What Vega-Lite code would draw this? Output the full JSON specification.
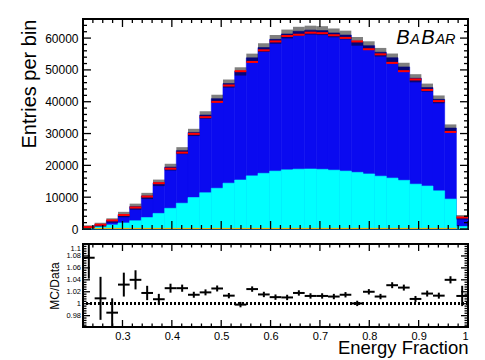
{
  "$schema": "https://vega.github.io/schema/vega-lite/v6.json",
  "background": "white",
  "padding": {"left": 18, "top": 17, "right": 15, "bottom": 0},
  "bounds": "flush",
  "spacing": 15,
  "config": {
    "font": "Liberation Sans",
    "view": {"stroke": "black", "strokeWidth": 2},
    "axis": {"domain": false, "grid": false, "ticks": false, "labelColor": "black", "titleColor": "black", "labelFont": "Liberation Sans", "titleFont": "Liberation Sans", "titleFontWeight": "normal", "labelOverlap": false},
    "tick": {"color": "black", "thickness": 1.3, "opacity": 1}
  },
  "datasets": {
    "bins": [
      {"lo": 0.22, "hi": 0.2436, "c": 0.2318, "data": 600, "mc": 650, "hlo": 150, "hhi": 1150, "cyan": 300, "orange": 100, "ratio": 1.077, "rlo": 1.042, "rhi": 1.112},
      {"lo": 0.2436, "hi": 0.2673, "c": 0.2555, "data": 1350, "mc": 1362, "hlo": 762, "hhi": 1962, "cyan": 700, "orange": 350, "ratio": 1.009, "rlo": 0.973, "rhi": 1.045},
      {"lo": 0.2673, "hi": 0.2909, "c": 0.2791, "data": 2700, "mc": 2660, "hlo": 1960, "hhi": 3360, "cyan": 1300, "orange": 350, "ratio": 0.985, "rlo": 0.961, "rhi": 1.009},
      {"lo": 0.2909, "hi": 0.3145, "c": 0.3027, "data": 4400, "mc": 4541, "hlo": 3691, "hhi": 5391, "cyan": 1900, "orange": 350, "ratio": 1.032, "rlo": 1.012, "rhi": 1.052},
      {"lo": 0.3145, "hi": 0.3382, "c": 0.3264, "data": 6750, "mc": 7020, "hlo": 6070, "hhi": 7970, "cyan": 2600, "orange": 350, "ratio": 1.04, "rlo": 1.024, "rhi": 1.056},
      {"lo": 0.3382, "hi": 0.3618, "c": 0.35, "data": 10200, "mc": 10384, "hlo": 9404, "hhi": 11364, "cyan": 3600, "orange": 350, "ratio": 1.018, "rlo": 1.006, "rhi": 1.03},
      {"lo": 0.3618, "hi": 0.3855, "c": 0.3736, "data": 14400, "mc": 14508, "hlo": 13488, "hhi": 15528, "cyan": 4900, "orange": 350, "ratio": 1.0075, "rlo": 0.9985, "rhi": 1.0165},
      {"lo": 0.3855, "hi": 0.4091, "c": 0.3973, "data": 18950, "mc": 19443, "hlo": 18383, "hhi": 20503, "cyan": 6500, "orange": 350, "ratio": 1.026, "rlo": 1.0185, "rhi": 1.0335},
      {"lo": 0.4091, "hi": 0.4327, "c": 0.4209, "data": 24000, "mc": 24624, "hlo": 23524, "hhi": 25724, "cyan": 8100, "orange": 350, "ratio": 1.026, "rlo": 1.02, "rhi": 1.032},
      {"lo": 0.4327, "hi": 0.4564, "c": 0.4445, "data": 29900, "mc": 30349, "hlo": 29209, "hhi": 31489, "cyan": 9900, "orange": 350, "ratio": 1.015, "rlo": 1.01, "rhi": 1.02},
      {"lo": 0.4564, "hi": 0.48, "c": 0.4682, "data": 35150, "mc": 35818, "hlo": 34628, "hhi": 37008, "cyan": 11400, "orange": 350, "ratio": 1.019, "rlo": 1.014, "rhi": 1.024},
      {"lo": 0.48, "hi": 0.5036, "c": 0.4918, "data": 39950, "mc": 40969, "hlo": 39739, "hhi": 42199, "cyan": 12800, "orange": 350, "ratio": 1.0255, "rlo": 1.0205, "rhi": 1.0305},
      {"lo": 0.5036, "hi": 0.5273, "c": 0.5155, "data": 45100, "mc": 45709, "hlo": 44439, "hhi": 46979, "cyan": 14400, "orange": 350, "ratio": 1.0135, "rlo": 1.009, "rhi": 1.018},
      {"lo": 0.5273, "hi": 0.5509, "c": 0.5391, "data": 49600, "mc": 49526, "hlo": 48226, "hhi": 50826, "cyan": 15400, "orange": 350, "ratio": 0.9985, "rlo": 0.994, "rhi": 1.003},
      {"lo": 0.5509, "hi": 0.5745, "c": 0.5627, "data": 52500, "mc": 53786, "hlo": 52456, "hhi": 55116, "cyan": 16700, "orange": 350, "ratio": 1.0245, "rlo": 1.02, "rhi": 1.029},
      {"lo": 0.5745, "hi": 0.5982, "c": 0.5864, "data": 56150, "mc": 57020, "hlo": 55660, "hhi": 58380, "cyan": 17500, "orange": 350, "ratio": 1.0155, "rlo": 1.011, "rhi": 1.02},
      {"lo": 0.5982, "hi": 0.6218, "c": 0.61, "data": 58950, "mc": 59598, "hlo": 58218, "hhi": 60978, "cyan": 18200, "orange": 350, "ratio": 1.011, "rlo": 1.0065, "rhi": 1.0155},
      {"lo": 0.6218, "hi": 0.6455, "c": 0.6336, "data": 60650, "mc": 61287, "hlo": 59897, "hhi": 62677, "cyan": 18600, "orange": 350, "ratio": 1.0105, "rlo": 1.006, "rhi": 1.015},
      {"lo": 0.6455, "hi": 0.6691, "c": 0.6573, "data": 61050, "mc": 62149, "hlo": 60749, "hhi": 63549, "cyan": 18800, "orange": 350, "ratio": 1.018, "rlo": 1.0135, "rhi": 1.0225},
      {"lo": 0.6691, "hi": 0.6927, "c": 0.6809, "data": 61700, "mc": 62502, "hlo": 61102, "hhi": 63902, "cyan": 18850, "orange": 350, "ratio": 1.013, "rlo": 1.0085, "rhi": 1.0175},
      {"lo": 0.6927, "hi": 0.7164, "c": 0.7045, "data": 61550, "mc": 62350, "hlo": 60950, "hhi": 63750, "cyan": 18750, "orange": 350, "ratio": 1.013, "rlo": 1.0085, "rhi": 1.0175},
      {"lo": 0.7164, "hi": 0.74, "c": 0.7282, "data": 60900, "mc": 61631, "hlo": 60241, "hhi": 63021, "cyan": 18500, "orange": 350, "ratio": 1.012, "rlo": 1.0075, "rhi": 1.0165},
      {"lo": 0.74, "hi": 0.7636, "c": 0.7518, "data": 60050, "mc": 60951, "hlo": 59561, "hhi": 62341, "cyan": 18200, "orange": 350, "ratio": 1.015, "rlo": 1.0105, "rhi": 1.0195},
      {"lo": 0.7636, "hi": 0.7873, "c": 0.7755, "data": 58950, "mc": 58979, "hlo": 57609, "hhi": 60349, "cyan": 17800, "orange": 350, "ratio": 1.0005, "rlo": 0.996, "rhi": 1.005},
      {"lo": 0.7873, "hi": 0.8109, "c": 0.7991, "data": 56500, "mc": 57630, "hlo": 56270, "hhi": 58990, "cyan": 17300, "orange": 350, "ratio": 1.02, "rlo": 1.0155, "rhi": 1.0245},
      {"lo": 0.8109, "hi": 0.8345, "c": 0.8227, "data": 54900, "mc": 55559, "hlo": 54209, "hhi": 56909, "cyan": 16600, "orange": 350, "ratio": 1.012, "rlo": 1.0075, "rhi": 1.0165},
      {"lo": 0.8345, "hi": 0.8582, "c": 0.8464, "data": 52200, "mc": 53818, "hlo": 52488, "hhi": 55148, "cyan": 16000, "orange": 350, "ratio": 1.031, "rlo": 1.026, "rhi": 1.036},
      {"lo": 0.8582, "hi": 0.8818, "c": 0.87, "data": 49600, "mc": 50939, "hlo": 49629, "hhi": 52249, "cyan": 15300, "orange": 350, "ratio": 1.027, "rlo": 1.022, "rhi": 1.032},
      {"lo": 0.8818, "hi": 0.9055, "c": 0.8936, "data": 47000, "mc": 47376, "hlo": 46096, "hhi": 48656, "cyan": 14100, "orange": 350, "ratio": 1.008, "rlo": 1.003, "rhi": 1.013},
      {"lo": 0.9055, "hi": 0.9291, "c": 0.9173, "data": 43700, "mc": 44443, "hlo": 43183, "hhi": 45703, "cyan": 13500, "orange": 350, "ratio": 1.017, "rlo": 1.012, "rhi": 1.022},
      {"lo": 0.9291, "hi": 0.9527, "c": 0.9409, "data": 40200, "mc": 40743, "hlo": 39513, "hhi": 41973, "cyan": 12000, "orange": 350, "ratio": 1.0135, "rlo": 1.0085, "rhi": 1.0185},
      {"lo": 0.9527, "hi": 0.9764, "c": 0.9645, "data": 30500, "mc": 31720, "hlo": 30570, "hhi": 32870, "cyan": 9400, "orange": 350, "ratio": 1.04, "rlo": 1.034, "rhi": 1.046},
      {"lo": 0.9764, "hi": 1.0, "c": 0.9882, "data": 3630, "mc": 3677, "hlo": 2977, "hhi": 4377, "cyan": 800, "orange": 100, "ratio": 1.013, "rlo": 0.996, "rhi": 1.03}
    ],
    "bigLetters": [{"t": "B", "x": 0.8547, "y": 58100}, {"t": "B", "x": 0.9054, "y": 58100}],
    "smallLetters": [{"t": "A", "x": 0.8832, "y": 58100}, {"t": "AR", "x": 0.934, "y": 58100}],
    "xMajor": [{"v": 0.3}, {"v": 0.4}, {"v": 0.5}, {"v": 0.6}, {"v": 0.7}, {"v": 0.8}, {"v": 0.9}, {"v": 1.0}],
    "xMinor": [{"v": 0.22}, {"v": 0.24}, {"v": 0.26}, {"v": 0.28}, {"v": 0.32}, {"v": 0.34}, {"v": 0.36}, {"v": 0.38}, {"v": 0.42}, {"v": 0.44}, {"v": 0.46}, {"v": 0.48}, {"v": 0.52}, {"v": 0.54}, {"v": 0.56}, {"v": 0.58}, {"v": 0.62}, {"v": 0.64}, {"v": 0.66}, {"v": 0.68}, {"v": 0.72}, {"v": 0.74}, {"v": 0.76}, {"v": 0.78}, {"v": 0.82}, {"v": 0.84}, {"v": 0.86}, {"v": 0.88}, {"v": 0.92}, {"v": 0.94}, {"v": 0.96}, {"v": 0.98}],
    "yMajorU": [{"v": 0}, {"v": 10000}, {"v": 20000}, {"v": 30000}, {"v": 40000}, {"v": 50000}, {"v": 60000}],
    "yMinorU": [{"v": 2000}, {"v": 4000}, {"v": 6000}, {"v": 8000}, {"v": 12000}, {"v": 14000}, {"v": 16000}, {"v": 18000}, {"v": 22000}, {"v": 24000}, {"v": 26000}, {"v": 28000}, {"v": 32000}, {"v": 34000}, {"v": 36000}, {"v": 38000}, {"v": 42000}, {"v": 44000}, {"v": 46000}, {"v": 48000}, {"v": 52000}, {"v": 54000}, {"v": 56000}, {"v": 58000}, {"v": 62000}, {"v": 64000}],
    "yMajorL": [{"v": 0.98}, {"v": 1.0}, {"v": 1.02}, {"v": 1.04}, {"v": 1.06}, {"v": 1.08}, {"v": 1.1}],
    "yMinorL": [{"v": 0.964}, {"v": 0.968}, {"v": 0.972}, {"v": 0.976}, {"v": 0.984}, {"v": 0.988}, {"v": 0.992}, {"v": 0.996}, {"v": 1.004}, {"v": 1.008}, {"v": 1.012}, {"v": 1.016}, {"v": 1.024}, {"v": 1.028}, {"v": 1.032}, {"v": 1.036}, {"v": 1.044}, {"v": 1.048}, {"v": 1.052}, {"v": 1.056}, {"v": 1.064}, {"v": 1.068}, {"v": 1.072}, {"v": 1.076}, {"v": 1.084}, {"v": 1.088}, {"v": 1.092}, {"v": 1.096}]
  },
  "vconcat": [
    {
      "width": 385,
      "height": 210,
      "resolve": {"axis": {"x": "independent", "y": "independent"}},
      "layer": [
        {
          "data": {"name": "bins"},
          "mark": {"type": "rect", "color": "#0a0af0", "stroke": "#0a0af0", "strokeWidth": 0.6},
          "encoding": {
            "x": {"field": "lo", "type": "quantitative", "scale": {"domain": [0.22, 1.0], "nice": false, "zero": false}, "axis": null},
            "x2": {"field": "hi"},
            "y": {"field": "mc", "type": "quantitative", "scale": {"domain": [0, 66000], "nice": false, "zero": false},
              "axis": {"orient": "left", "title": "Entries per bin", "titleFontSize": 20, "titleAnchor": "end", "titlePadding": 5,
                "labelFontSize": 12, "labelFlush": false, "labelPadding": 5, "format": "d",
                "values": [0,10000,20000,30000,40000,50000,60000]}},
            "y2": {"datum": 0}
          }
        },
        {
          "data": {"name": "bins"},
          "mark": {"type": "rect", "color": "#00ffff", "stroke": "#00ffff", "strokeWidth": 0.6},
          "encoding": {
            "x": {"field": "lo", "type": "quantitative", "scale": {"domain": [0.22, 1.0], "nice": false, "zero": false}, "axis": null},
            "x2": {"field": "hi"},
            "y": {"field": "cyan", "type": "quantitative", "scale": {"domain": [0, 66000], "nice": false, "zero": false}, "axis": null},
            "y2": {"datum": 0}
          }
        },
        {
          "data": {"name": "bins"},
          "mark": {"type": "rect", "color": "#f0b000"},
          "encoding": {
            "x": {"field": "lo", "type": "quantitative", "scale": {"domain": [0.22, 1.0], "nice": false, "zero": false}, "axis": null},
            "x2": {"field": "hi"},
            "y": {"field": "orange", "type": "quantitative", "scale": {"domain": [0, 66000], "nice": false, "zero": false}, "axis": null},
            "y2": {"datum": 0}
          }
        },
        {
          "data": {"name": "bins"},
          "mark": {"type": "rect", "color": "black", "opacity": 0.5},
          "encoding": {
            "x": {"field": "lo", "type": "quantitative", "scale": {"domain": [0.22, 1.0], "nice": false, "zero": false}, "axis": null},
            "x2": {"field": "hi"},
            "y": {"field": "hlo", "type": "quantitative", "scale": {"domain": [0, 66000], "nice": false, "zero": false}, "axis": null},
            "y2": {"field": "hhi"}
          }
        },
        {
          "data": {"name": "bins"},
          "mark": {"type": "rule", "color": "#ff0000", "strokeWidth": 2},
          "encoding": {
            "x": {"field": "lo", "type": "quantitative", "scale": {"domain": [0.22, 1.0], "nice": false, "zero": false}, "axis": null},
            "x2": {"field": "hi"},
            "y": {"field": "data", "type": "quantitative", "scale": {"domain": [0, 66000], "nice": false, "zero": false}, "axis": null}
          }
        },
        {
          "data": {"name": "bigLetters"},
          "mark": {"type": "text", "fontSize": 20, "fontStyle": "italic", "align": "left", "baseline": "alphabetic", "color": "black"},
          "encoding": {
            "x": {"field": "x", "type": "quantitative", "scale": {"domain": [0.22, 1.0], "nice": false, "zero": false}, "axis": null},
            "y": {"field": "y", "type": "quantitative", "scale": {"domain": [0, 66000], "nice": false, "zero": false}, "axis": null},
            "text": {"field": "t"}
          }
        },
        {
          "data": {"name": "smallLetters"},
          "mark": {"type": "text", "fontSize": 14.5, "fontStyle": "italic", "align": "left", "baseline": "alphabetic", "color": "black"},
          "encoding": {
            "x": {"field": "x", "type": "quantitative", "scale": {"domain": [0.22, 1.0], "nice": false, "zero": false}, "axis": null},
            "y": {"field": "y", "type": "quantitative", "scale": {"domain": [0, 66000], "nice": false, "zero": false}, "axis": null},
            "text": {"field": "t"}
          }
        },
        {"data": {"name": "xMajor"}, "mark": {"type": "tick", "orient": "vertical", "size": 8, "yOffset": -4},
          "encoding": {"x": {"field": "v", "type": "quantitative", "scale": {"domain": [0.22, 1.0], "nice": false, "zero": false}, "axis": null}, "y": {"datum": 0, "type": "quantitative", "scale": {"domain": [0, 66000], "nice": false, "zero": false}, "axis": null}}},
        {"data": {"name": "xMajor"}, "mark": {"type": "tick", "orient": "vertical", "size": 8, "yOffset": 4},
          "encoding": {"x": {"field": "v", "type": "quantitative", "scale": {"domain": [0.22, 1.0], "nice": false, "zero": false}, "axis": null}, "y": {"datum": 66000, "type": "quantitative", "scale": {"domain": [0, 66000], "nice": false, "zero": false}, "axis": null}}},
        {"data": {"name": "xMinor"}, "mark": {"type": "tick", "orient": "vertical", "size": 4, "yOffset": -2},
          "encoding": {"x": {"field": "v", "type": "quantitative", "scale": {"domain": [0.22, 1.0], "nice": false, "zero": false}, "axis": null}, "y": {"datum": 0, "type": "quantitative", "scale": {"domain": [0, 66000], "nice": false, "zero": false}, "axis": null}}},
        {"data": {"name": "xMinor"}, "mark": {"type": "tick", "orient": "vertical", "size": 4, "yOffset": 2},
          "encoding": {"x": {"field": "v", "type": "quantitative", "scale": {"domain": [0.22, 1.0], "nice": false, "zero": false}, "axis": null}, "y": {"datum": 66000, "type": "quantitative", "scale": {"domain": [0, 66000], "nice": false, "zero": false}, "axis": null}}},
        {"data": {"name": "yMajorU"}, "mark": {"type": "tick", "orient": "horizontal", "size": 8, "xOffset": 4},
          "encoding": {"y": {"field": "v", "type": "quantitative", "scale": {"domain": [0, 66000], "nice": false, "zero": false}, "axis": null}, "x": {"datum": 0.22, "type": "quantitative", "scale": {"domain": [0.22, 1.0], "nice": false, "zero": false}, "axis": null}}},
        {"data": {"name": "yMajorU"}, "mark": {"type": "tick", "orient": "horizontal", "size": 8, "xOffset": -4},
          "encoding": {"y": {"field": "v", "type": "quantitative", "scale": {"domain": [0, 66000], "nice": false, "zero": false}, "axis": null}, "x": {"datum": 1.0, "type": "quantitative", "scale": {"domain": [0.22, 1.0], "nice": false, "zero": false}, "axis": null}}},
        {"data": {"name": "yMinorU"}, "mark": {"type": "tick", "orient": "horizontal", "size": 4, "xOffset": 2},
          "encoding": {"y": {"field": "v", "type": "quantitative", "scale": {"domain": [0, 66000], "nice": false, "zero": false}, "axis": null}, "x": {"datum": 0.22, "type": "quantitative", "scale": {"domain": [0.22, 1.0], "nice": false, "zero": false}, "axis": null}}},
        {"data": {"name": "yMinorU"}, "mark": {"type": "tick", "orient": "horizontal", "size": 4, "xOffset": -2},
          "encoding": {"y": {"field": "v", "type": "quantitative", "scale": {"domain": [0, 66000], "nice": false, "zero": false}, "axis": null}, "x": {"datum": 1.0, "type": "quantitative", "scale": {"domain": [0.22, 1.0], "nice": false, "zero": false}, "axis": null}}}
      ]
    },
    {
      "width": 385,
      "height": 83,
      "resolve": {"axis": {"x": "independent", "y": "independent"}},
      "layer": [
        {
          "data": {"name": "bins"},
          "mark": {"type": "rule", "color": "black", "strokeWidth": 2, "clip": true},
          "encoding": {
            "x": {"field": "c", "type": "quantitative", "scale": {"domain": [0.22, 1.0], "nice": false, "zero": false},
              "axis": {"orient": "bottom", "title": "Energy Fraction", "titleFontSize": 18.5, "titleAnchor": "end", "titlePadding": -3,
                "labelFontSize": 11, "labelFlush": true, "labelPadding": 3.5, "format": "~g",
                "values": [0.3,0.4,0.5,0.6,0.7,0.8,0.9,1.0]}},
            "y": {"field": "rlo", "type": "quantitative", "scale": {"domain": [0.961, 1.1], "nice": false, "zero": false},
              "axis": {"orient": "left", "title": "MC/Data", "titleFontSize": 12, "titlePadding": 4,
                "labelFontSize": 7.5, "labelFlush": true, "labelPadding": 2.5, "format": "~g",
                "values": [0.98,1,1.02,1.04,1.06,1.08,1.1]}},
            "y2": {"field": "rhi"}
          }
        },
        {
          "data": {"name": "bins"},
          "mark": {"type": "rule", "color": "black", "strokeWidth": 2, "clip": true},
          "encoding": {
            "x": {"field": "lo", "type": "quantitative", "scale": {"domain": [0.22, 1.0], "nice": false, "zero": false}, "axis": null},
            "x2": {"field": "hi"},
            "y": {"field": "ratio", "type": "quantitative", "scale": {"domain": [0.961, 1.1], "nice": false, "zero": false}, "axis": null}
          }
        },
        {
          "data": {"name": "bins"},
          "mark": {"type": "rule", "color": "black", "strokeWidth": 2, "strokeDash": [2, 2]},
          "encoding": {
            "y": {"datum": 1, "type": "quantitative", "scale": {"domain": [0.961, 1.1], "nice": false, "zero": false}, "axis": null}
          }
        },
        {"data": {"name": "xMajor"}, "mark": {"type": "tick", "orient": "vertical", "size": 7, "yOffset": -3.5},
          "encoding": {"x": {"field": "v", "type": "quantitative", "scale": {"domain": [0.22, 1.0], "nice": false, "zero": false}, "axis": null}, "y": {"datum": 0.961, "type": "quantitative", "scale": {"domain": [0.961, 1.1], "nice": false, "zero": false}, "axis": null}}},
        {"data": {"name": "xMajor"}, "mark": {"type": "tick", "orient": "vertical", "size": 7, "yOffset": 3.5},
          "encoding": {"x": {"field": "v", "type": "quantitative", "scale": {"domain": [0.22, 1.0], "nice": false, "zero": false}, "axis": null}, "y": {"datum": 1.1, "type": "quantitative", "scale": {"domain": [0.961, 1.1], "nice": false, "zero": false}, "axis": null}}},
        {"data": {"name": "xMinor"}, "mark": {"type": "tick", "orient": "vertical", "size": 3.5, "yOffset": -1.75},
          "encoding": {"x": {"field": "v", "type": "quantitative", "scale": {"domain": [0.22, 1.0], "nice": false, "zero": false}, "axis": null}, "y": {"datum": 0.961, "type": "quantitative", "scale": {"domain": [0.961, 1.1], "nice": false, "zero": false}, "axis": null}}},
        {"data": {"name": "xMinor"}, "mark": {"type": "tick", "orient": "vertical", "size": 3.5, "yOffset": 1.75},
          "encoding": {"x": {"field": "v", "type": "quantitative", "scale": {"domain": [0.22, 1.0], "nice": false, "zero": false}, "axis": null}, "y": {"datum": 1.1, "type": "quantitative", "scale": {"domain": [0.961, 1.1], "nice": false, "zero": false}, "axis": null}}},
        {"data": {"name": "yMajorL"}, "mark": {"type": "tick", "orient": "horizontal", "size": 7, "xOffset": 3.5},
          "encoding": {"y": {"field": "v", "type": "quantitative", "scale": {"domain": [0.961, 1.1], "nice": false, "zero": false}, "axis": null}, "x": {"datum": 0.22, "type": "quantitative", "scale": {"domain": [0.22, 1.0], "nice": false, "zero": false}, "axis": null}}},
        {"data": {"name": "yMajorL"}, "mark": {"type": "tick", "orient": "horizontal", "size": 7, "xOffset": -3.5},
          "encoding": {"y": {"field": "v", "type": "quantitative", "scale": {"domain": [0.961, 1.1], "nice": false, "zero": false}, "axis": null}, "x": {"datum": 1.0, "type": "quantitative", "scale": {"domain": [0.22, 1.0], "nice": false, "zero": false}, "axis": null}}},
        {"data": {"name": "yMinorL"}, "mark": {"type": "tick", "orient": "horizontal", "size": 3.5, "xOffset": 1.75},
          "encoding": {"y": {"field": "v", "type": "quantitative", "scale": {"domain": [0.961, 1.1], "nice": false, "zero": false}, "axis": null}, "x": {"datum": 0.22, "type": "quantitative", "scale": {"domain": [0.22, 1.0], "nice": false, "zero": false}, "axis": null}}},
        {"data": {"name": "yMinorL"}, "mark": {"type": "tick", "orient": "horizontal", "size": 3.5, "xOffset": -1.75},
          "encoding": {"y": {"field": "v", "type": "quantitative", "scale": {"domain": [0.961, 1.1], "nice": false, "zero": false}, "axis": null}, "x": {"datum": 1.0, "type": "quantitative", "scale": {"domain": [0.22, 1.0], "nice": false, "zero": false}, "axis": null}}}
      ]
    }
  ]
}
